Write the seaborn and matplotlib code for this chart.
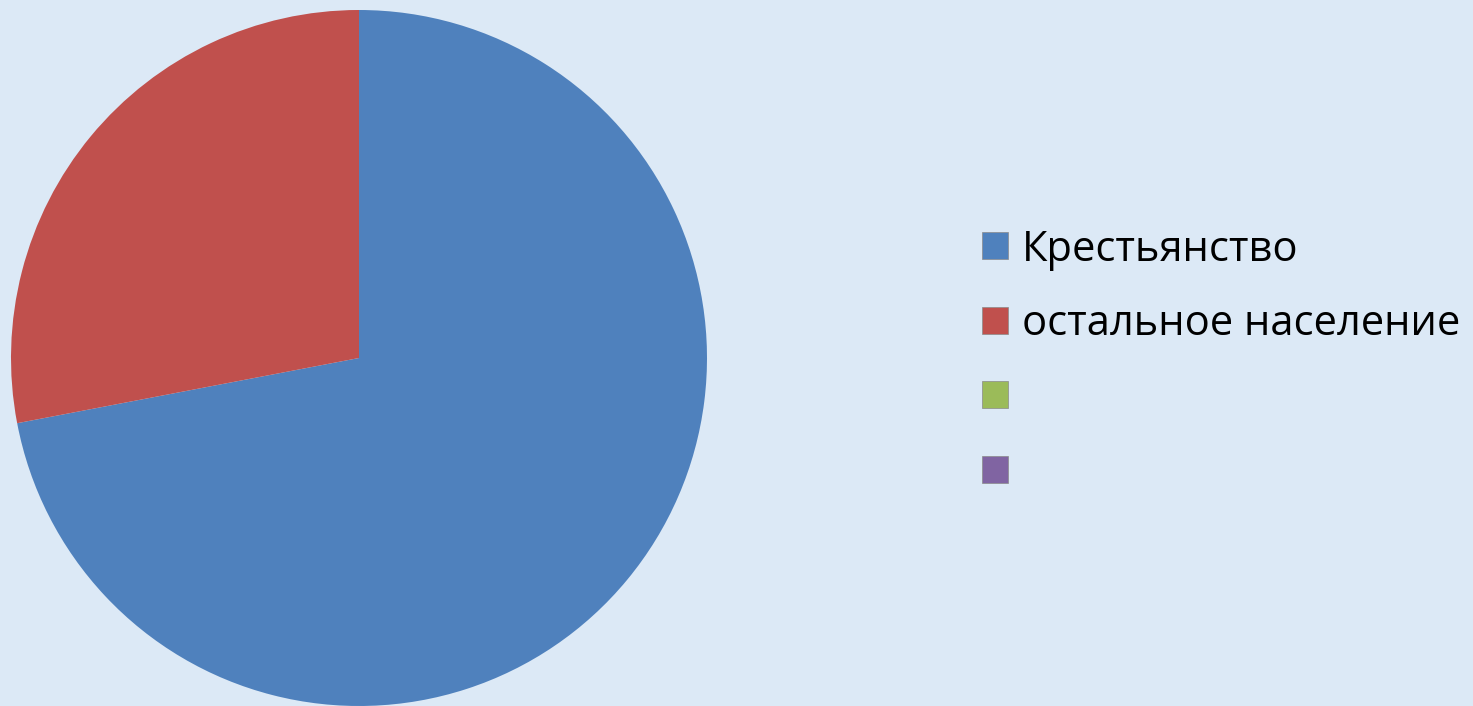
import matplotlib
matplotlib.use("Agg")
import matplotlib.pyplot as plt
import matplotlib.patches as mpatches
import seaborn as sns

# ====== DATA ======
categories = ["Крестьянство", "остальное население", "", ""]
values = [72, 28, 0, 0]
colors = ["#4F81BD", "#C0504D", "#9BBB59", "#8064A2"]
bg = "#DCE9F6"

sns.set_theme(style="white")
plt.rcParams["font.family"] = ["Open Sans", "DejaVu Sans"]

fig = plt.figure(figsize=(14.73, 7.06), dpi=100, facecolor=bg)

# ====== Pie ======
ax = fig.add_axes([11 / 1473, 0.0, 696 / 1473, 696 / 706])
ax.set_facecolor(bg)
ax.pie(values[:2], colors=colors[:2], startangle=90, counterclock=False,
       radius=1, wedgeprops=dict(linewidth=0))
ax.set_xlim(-1, 1)
ax.set_ylim(-1, 1)
ax.set_aspect("equal")
ax.axis("off")

# ====== Legend ======
handles = [mpatches.Patch(facecolor=c, edgecolor="#8a8a8a", linewidth=0.5) for c in colors]
leg = fig.legend(handles, categories, loc="upper left",
                 bbox_to_anchor=(965 / 1473, 1 - 212 / 706),
                 frameon=False, fontsize=30, handlelength=0.62, handleheight=0.62,
                 handletextpad=0.35, labelspacing=0.78, borderaxespad=0,
                 labelcolor="black")

fig.savefig("out.png", dpi=100, facecolor=bg)
plt.close()
